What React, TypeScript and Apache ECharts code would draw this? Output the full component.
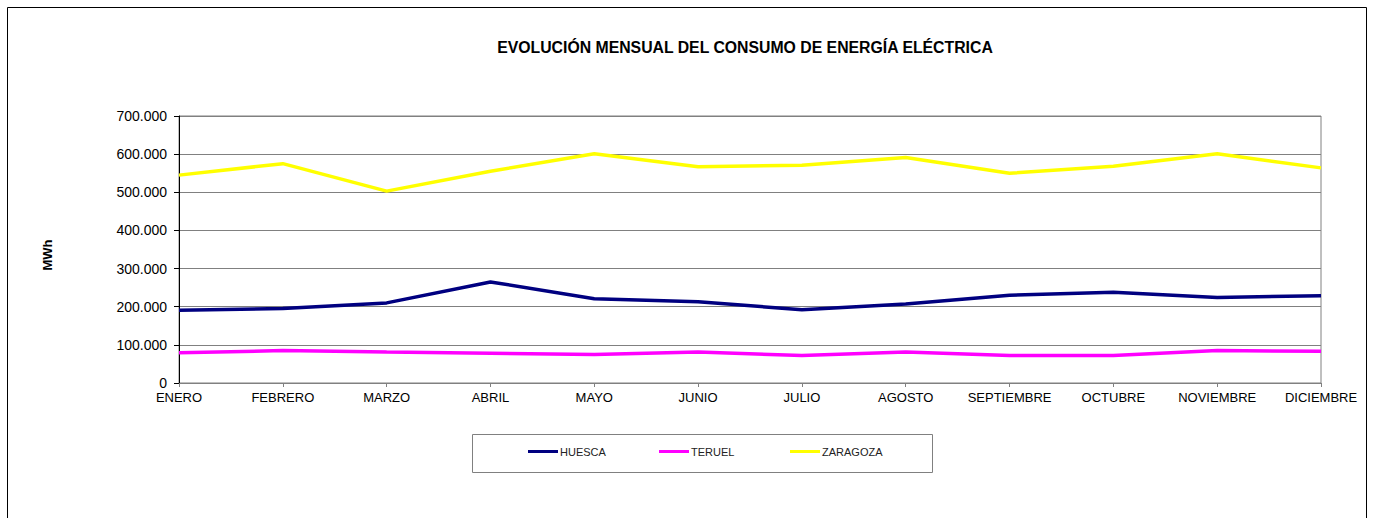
import React, { useEffect, useRef } from "react";
import * as echarts from "echarts";

const months = ["ENERO", "FEBRERO", "MARZO", "ABRIL", "MAYO", "JUNIO", "JULIO", "AGOSTO", "SEPTIEMBRE", "OCTUBRE", "NOVIEMBRE", "DICIEMBRE"];
const huesca = [191000, 195000, 210000, 265000, 221000, 213000, 192000, 207000, 230000, 238000, 224000, 229000];
const teruel = [79000, 85000, 81000, 78000, 75000, 81000, 72000, 81000, 72000, 72000, 85000, 83000];
const zaragoza = [545000, 575000, 503000, 555000, 601000, 567000, 571000, 591000, 550000, 568000, 601000, 564000];
const seriesNames = ["HUESCA", "TERUEL", "ZARAGOZA"];
const seriesColors = ["#000080", "#FF00FF", "#FFFF00"];

const FONT = "Liberation Sans, Arial, sans-serif";

function fmt(v: number): string {
  return String(Math.round(v)).replace(/\B(?=(\d{3})+(?!\d))/g, ".");
}

export default function App() {
  const ref = useRef<HTMLDivElement>(null);
  useEffect(() => {
    if (!ref.current) return;
    const chart = echarts.init(ref.current, undefined, { renderer: "svg" });
    const data = [huesca, teruel, zaragoza];
    const legendLefts = [528, 659, 790];
    chart.setOption({
      animation: false,
      backgroundColor: "#ffffff",
      textStyle: { fontFamily: FONT },
      title: {
        text: "EVOLUCIÓN MENSUAL DEL CONSUMO DE ENERGÍA ELÉCTRICA",
        left: 740,
        top: 34,
        textAlign: "center",
        textStyle: { fontFamily: FONT, fontSize: 15.8, fontWeight: "bold", color: "#000" },
      },
      graphic: [
        {
          type: "rect",
          shape: { x: 7.5, y: 7.5, width: 1359, height: 530 },
          style: { fill: "none", stroke: "#000", lineWidth: 1 },
          silent: true,
        },
        {
          type: "rect",
          shape: { x: 472.5, y: 434.5, width: 460, height: 38 },
          style: { fill: "#fff", stroke: "#808080", lineWidth: 1 },
          silent: true,
          z: -1,
        },
        {
          type: "text",
          x: 47,
          y: 255,
          rotation: Math.PI / 2,
          style: {
            text: "MWh",
            fontFamily: FONT,
            fontSize: 13,
            fontWeight: "bold",
            fill: "#000",
            textAlign: "center",
            textVerticalAlign: "middle",
          },
          silent: true,
        },
      ],
      legend: seriesNames.map((n, i) => ({
        data: [n],
        left: legendLefts[i],
        top: 446,
        icon: "rect",
        itemWidth: 30,
        itemHeight: 3,
        itemGap: 2,
        padding: 0,
        textStyle: { fontFamily: FONT, fontSize: 11, color: "#222", padding: [0, 0, 0, -3] },
      })),
      grid: { left: 179, right: 55, top: 116, bottom: 135, show: true, borderColor: "#808080", borderWidth: 1 },
      xAxis: {
        type: "category",
        data: months,
        boundaryGap: false,
        axisLine: { lineStyle: { color: "#808080", width: 1 } },
        axisTick: { show: true, length: 4, lineStyle: { color: "#808080" } },
        axisLabel: { color: "#000", fontSize: 13, fontFamily: FONT, margin: 8, interval: 0 },
      },
      yAxis: {
        type: "value",
        min: 0,
        max: 700000,
        interval: 100000,
        axisLine: { show: true, lineStyle: { color: "#000", width: 1 } },
        axisTick: { show: true, length: 5, lineStyle: { color: "#000" } },
        splitLine: { lineStyle: { color: "#808080", width: 1 } },
        axisLabel: { color: "#000", fontSize: 14, fontFamily: FONT, margin: 12, formatter: (v: number) => fmt(v) },
      },
      series: seriesNames.map((n, i) => ({
        name: n,
        type: "line",
        data: data[i],
        showSymbol: false,
        symbol: "none",
        lineStyle: { color: seriesColors[i], width: 3.5 },
        itemStyle: { color: seriesColors[i] },
      })),
    });
    return () => chart.dispose();
  }, []);
  return <div ref={ref} style={{ position: "fixed", left: 0, top: 0, width: 1376, height: 518 }} />;
}
